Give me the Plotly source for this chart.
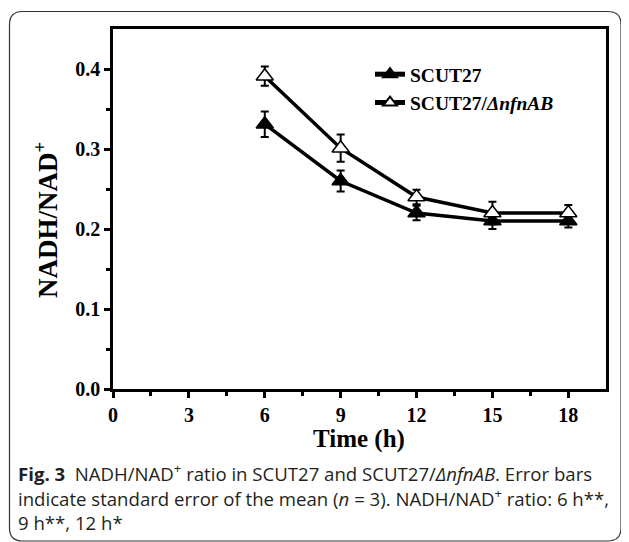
import plotly.graph_objects as go

time_h = [6, 9, 12, 15, 18]
scut27 = [0.331, 0.260, 0.220, 0.210, 0.210]
scut27_err = [0.016, 0.013, 0.009, 0.010, 0.008]
mutant = [0.391, 0.301, 0.240, 0.220, 0.220]
mutant_err = [0.012, 0.017, 0.009, 0.014, 0.010]

# page has an 8px body margin; work in figure pixel coordinates
W, H = 621, 534
ML, MR, MT, MB = 105, 23, 21, 153
PW, PH = W - ML - MR, H - MT - MB

def px(x):
    return (x - ML) / PW

def py(y):
    return (H - MB - y) / PH

serif = "Liberation Serif"

fig = go.Figure()
fig.add_trace(go.Scatter(
    x=time_h, y=scut27, name="SCUT27", mode="lines+markers",
    line=dict(color="black", width=3.5),
    marker=dict(symbol="triangle-up", size=15, color="black", line=dict(color="black", width=1.5)),
    error_y=dict(type="data", array=scut27_err, color="black", thickness=2, width=4),
))
fig.add_trace(go.Scatter(
    x=time_h, y=mutant, name="SCUT27/<i>ΔnfnAB</i>", mode="lines+markers",
    line=dict(color="black", width=3.5),
    marker=dict(symbol="triangle-up", size=15, color="white", line=dict(color="black", width=1.5)),
    error_y=dict(type="data", array=mutant_err, color="black", thickness=2, width=4),
))

axis_common = dict(showline=True, linecolor="black", linewidth=2.5, mirror=True,
                   ticks="outside", tickwidth=2.5, ticklen=6, tickcolor="black",
                   showgrid=False, zeroline=False,
                   tickfont=dict(family=serif, size=20, color="black", weight="bold"))

fig.update_xaxes(range=[0, 19.49], tickvals=[0, 3, 6, 9, 12, 15, 18],
                 minor=dict(tickvals=[1.5, 4.5, 7.5, 10.5, 13.5, 16.5], ticks="outside",
                            ticklen=4, tickwidth=2.5, tickcolor="black"),
                 **axis_common)
fig.update_yaxes(range=[0, 0.45], tickvals=[0, 0.1, 0.2, 0.3, 0.4], tickformat=".1f",
                 minor=dict(tickvals=[0.05, 0.15, 0.25, 0.35], ticks="outside",
                            ticklen=4, tickwidth=2.5, tickcolor="black"),
                 **axis_common)

# axis titles
fig.add_annotation(text="Time (h)", x=px(351), y=py(431), xref="paper", yref="paper",
                   xanchor="center", yanchor="middle", showarrow=False,
                   font=dict(family=serif, size=25, color="black", weight="bold"))
fig.add_annotation(text="NADH/NAD<sup>+</sup>", x=px(38), y=py(212), xref="paper", yref="paper",
                   xanchor="center", yanchor="middle", showarrow=False, textangle=-90,
                   font=dict(family=serif, size=27, color="black", weight="bold"))

# rounded outer frame
x0, x1, y0, y1, r = 1.5, 613, 3.5, 533, 13
path = (f"M {px(x0+r)} {py(y0)} L {px(x1-r)} {py(y0)} Q {px(x1)} {py(y0)} {px(x1)} {py(y0+r)} "
        f"L {px(x1)} {py(y1-r)} Q {px(x1)} {py(y1)} {px(x1-r)} {py(y1)} "
        f"L {px(x0+r)} {py(y1)} Q {px(x0)} {py(y1)} {px(x0)} {py(y1-r)} "
        f"L {px(x0)} {py(y0+r)} Q {px(x0)} {py(y0)} {px(x0+r)} {py(y0)} Z")
fig.add_shape(type="path", path=path, xref="paper", yref="paper",
              line=dict(color="#333333", width=1.2), layer="below")

cap_font = dict(family="Open Sans", size=18.6, color="#231f20")
captions = [
    ("<b>Fig. 3</b>  NADH/NAD<sup>+</sup> ratio in SCUT27 and SCUT27/<i>ΔnfnAB</i>. Error bars", 464),
    ("indicate standard error of the mean (<i>n</i> = 3). NADH/NAD<sup>+</sup> ratio: 6 h**,", 489),
    ("9 h**, 12 h*", 514),
]
for txt, yy in captions:
    fig.add_annotation(text=txt, x=px(8), y=py(yy), xref="paper", yref="paper",
                       xanchor="left", yanchor="middle", showarrow=False, font=cap_font)

fig.update_layout(
    width=W, height=H, margin=dict(l=ML, r=MR, t=MT, b=MB),
    paper_bgcolor="white", plot_bgcolor="white",
    showlegend=True,
    legend=dict(x=px(362), y=py(47), xanchor="left", yanchor="top",
                font=dict(family=serif, size=19.5, color="black", weight="bold"),
                bgcolor="rgba(0,0,0,0)", tracegroupgap=0, itemsizing="constant"),
)

fig.write_html("out.html")
